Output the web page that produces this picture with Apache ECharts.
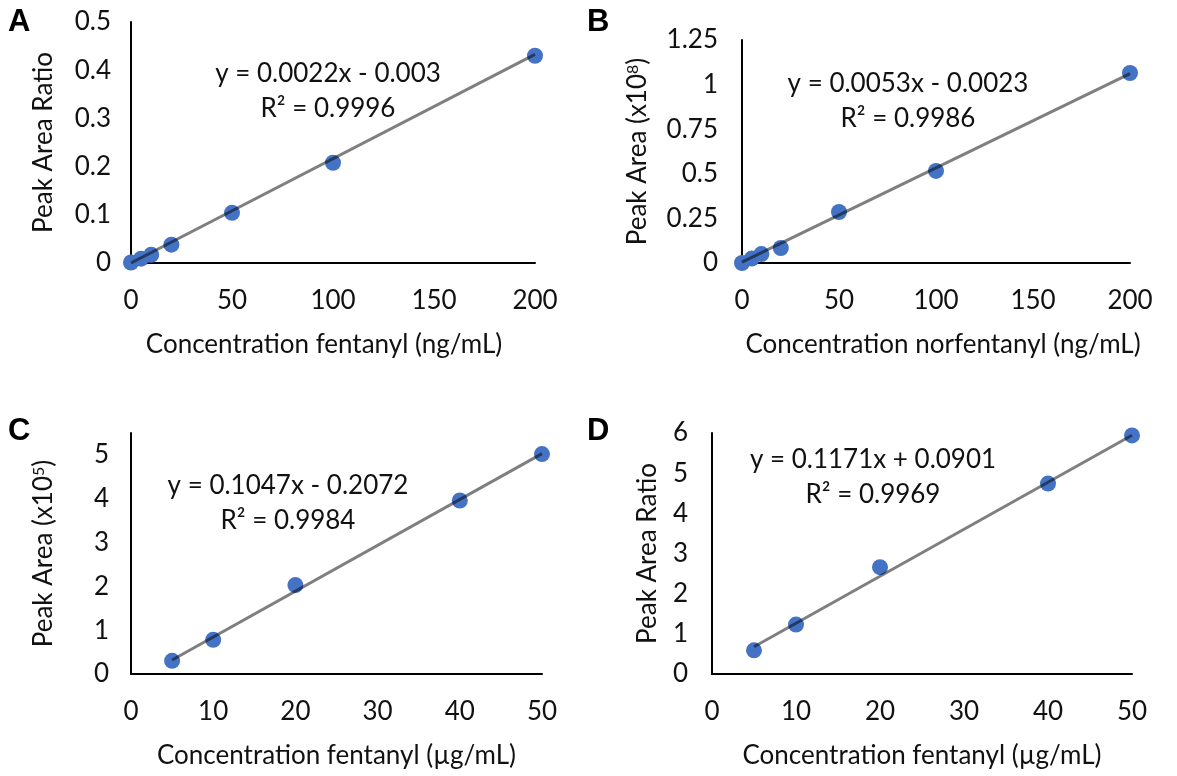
<!DOCTYPE html>
<html>
<head>
<meta charset="utf-8">
<script src="https://cdn.jsdelivr.net/npm/echarts@6/dist/echarts.min.js"></script>
<style>
html,body{margin:0;padding:0;background:#fff;}
#chart{width:1177px;height:776px;}
</style>
</head>
<body>
<div id="chart"></div>
<script>
// ---------- data ----------
const concA = [0, 5, 10, 20, 50, 100, 200];
const ratioA = [0.001, 0.009, 0.017, 0.038, 0.104, 0.208, 0.430];
const trendA = [[0, 0.0], [200, 0.433]];

const concB = [0, 5, 10, 20, 50, 100, 200];
const areaB = [0.0, 0.025, 0.05, 0.084, 0.286, 0.516, 1.065];
const trendB = [[0, 0.005], [200, 1.062]];

const concC = [5, 10, 20, 40, 50];
const areaC = [0.30, 0.78, 2.03, 3.96, 5.02];
const trendC = [[5, 0.32], [50, 5.03]];

const concD = [5, 10, 20, 40, 50];
const ratioD = [0.59, 1.23, 2.66, 4.74, 5.94];
const trendD = [[5, 0.68], [50, 5.945]];

const xTicksAB = [0, 50, 100, 150, 200];
const xTicksCD = [0, 10, 20, 30, 40, 50];
const yTicksA = [0, 0.1, 0.2, 0.3, 0.4, 0.5];
const yTicksB = [0, 0.25, 0.5, 0.75, 1, 1.25];
const yTicksC = [0, 1, 2, 3, 4, 5];
const yMaxC = 5.5;
const yTicksD = [0, 1, 2, 3, 4, 5, 6];

const equations = [
  ['y = 0.0022x - 0.003', 'R² = 0.9996'],
  ['y = 0.0053x - 0.0023', 'R² = 0.9986'],
  ['y = 0.1047x - 0.2072', 'R² = 0.9984'],
  ['y = 0.1171x + 0.0901', 'R² = 0.9969']
];
const panelLetters = ['A', 'B', 'C', 'D'];
const xTitles = ['Concentration fentanyl (ng/mL)', 'Concentration norfentanyl (ng/mL)',
                 'Concentration fentanyl (µg/mL)', 'Concentration fentanyl (µg/mL)'];

// ---------- styling ----------
const FONT = 'Lato, "Open Sans", sans-serif';
const FS = 26;
const TXT = '#111';
const BLUE = '#4472C4';
const TREND = 'rgba(0,0,0,0.5)';

const grids = [
  {left: 131, top: 22,  width: 404, height: 241},
  {left: 742, top: 40,  width: 388, height: 223},
  {left: 131, top: 433, width: 411, height: 241},
  {left: 712, top: 433, width: 420, height: 241}
];
const xNamePad = [[0, 18, 0, 0], [0, 0, 0, 14], [0, 0, 0, 0], [0, 0, 0, 0]];

function xAxis(i, ticks) {
  return {
    type: 'value', gridIndex: i,
    min: ticks[0], max: ticks[ticks.length - 1], interval: ticks[1] - ticks[0],
    name: xTitles[i], nameLocation: 'middle', nameGap: 69,
    nameTextStyle: {fontFamily: FONT, fontSize: FS, color: TXT, padding: xNamePad[i]},
    axisLine: {show: true, onZero: false, lineStyle: {color: '#000', width: 2}},
    axisTick: {show: false}, splitLine: {show: false},
    axisLabel: {fontFamily: FONT, fontSize: FS, color: TXT, margin: 25}
  };
}
function yAxis(i, ticks, name, gap, max, margin) {
  return {
    type: 'value', gridIndex: i,
    min: ticks[0], max: max !== undefined ? max : ticks[ticks.length - 1],
    interval: ticks[1] - ticks[0],
    name: name, nameLocation: 'middle', nameGap: gap, nameRotate: 90,
    nameTextStyle: {fontFamily: FONT, fontSize: FS, color: TXT,
      rich: {
        n: {fontFamily: FONT, fontSize: FS, color: TXT},
        s: {fontFamily: FONT, fontSize: 16, color: TXT, verticalAlign: 'top', padding: [0, 0, 10, 0]}
      }},
    axisLine: {show: true, onZero: false, lineStyle: {color: '#000', width: 2}},
    axisTick: {show: false}, splitLine: {show: false},
    axisLabel: {fontFamily: FONT, fontSize: FS, color: TXT, margin: margin,
      showMaxLabel: max === undefined,
      formatter: v => String(+v.toFixed(2))}
  };
}

const scatterData = [[concA, ratioA], [concB, areaB], [concC, areaC], [concD, ratioD]];
const trends = [trendA, trendB, trendC, trendD];

const series = [];
scatterData.forEach(([xs, ys], i) => {
  series.push({
    type: 'scatter', xAxisIndex: i, yAxisIndex: i, z: 2,
    symbol: 'circle', symbolSize: 16,
    itemStyle: {color: BLUE, opacity: 1},
    data: xs.map((x, k) => [x, ys[k]])
  });
  series.push({
    type: 'line', xAxisIndex: i, yAxisIndex: i, z: 3,
    symbol: 'none', silent: true,
    lineStyle: {color: TREND, width: 3},
    data: trends[i]
  });
});

const eqPos = [[328, 74], [908, 84], [288, 486], [873, 460]];
const letterPos = [[8, 7], [587, 7], [8, 416], [587, 416]];
const graphic = [];
equations.forEach((lines, i) => {
  lines.forEach((t, k) => {
    graphic.push({type: 'text', x: eqPos[i][0], y: eqPos[i][1] + k * 35,
      style: {text: t, fontFamily: FONT, fontSize: FS, fill: TXT,
              textAlign: 'center', textVerticalAlign: 'middle'}});
  });
});
panelLetters.forEach((l, i) => {
  graphic.push({type: 'text', left: letterPos[i][0], top: letterPos[i][1],
    style: {text: l, fontFamily: '"Liberation Sans", Arial, sans-serif', fontSize: 31,
            fontWeight: 'bold', fill: '#000'}});
});

const option = {
  backgroundColor: '#fff',
  animation: false,
  grid: grids,
  xAxis: [xAxis(0, xTicksAB), xAxis(1, xTicksAB), xAxis(2, xTicksCD), xAxis(3, xTicksCD)],
  yAxis: [
    yAxis(0, yTicksA, 'Peak Area Ratio', 74, undefined, 20),
    yAxis(1, yTicksB, '{n|Peak Area (x10}{s|8}{n|)}', 91, undefined, 24),
    yAxis(2, yTicksC, '{n|Peak Area (x10}{s|5}{n|)}', 74, yMaxC, 22),
    yAxis(3, yTicksD, 'Peak Area Ratio', 51, undefined, 24)
  ],
  series: series,
  graphic: graphic
};

const chart = echarts.init(document.getElementById('chart'), null, {renderer: 'canvas'});
chart.setOption(option);
</script>
</body>
</html>
